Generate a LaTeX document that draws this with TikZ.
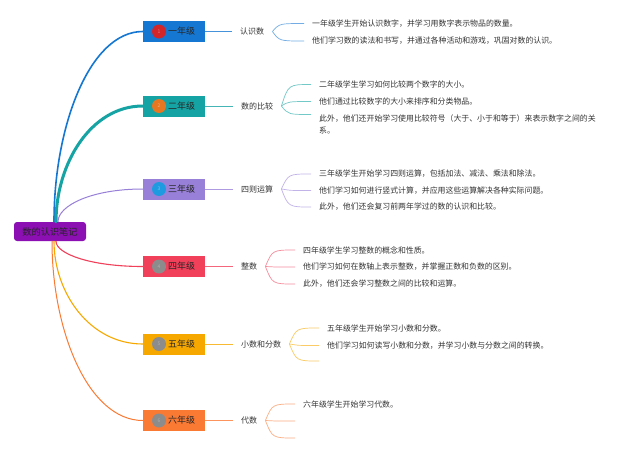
\documentclass[tikz,border=0pt]{standalone}
\usepackage{fontspec}
\newfontfamily\cjk{Noto Sans CJK SC}
\usetikzlibrary{calc}
\definecolor{rootc}{RGB}{139,15,178}
\definecolor{ca}{RGB}{22,119,210}
\definecolor{cb}{RGB}{22,163,163}
\definecolor{cc}{RGB}{152,128,216}
\definecolor{cd}{RGB}{240,64,90}
\definecolor{ce}{RGB}{246,168,0}
\definecolor{cf}{RGB}{250,122,52}
\definecolor{na}{RGB}{211,38,43}
\definecolor{nb}{RGB}{232,119,34}
\definecolor{nc}{RGB}{30,155,224}
\definecolor{ng}{RGB}{140,140,140}
\definecolor{txt}{RGB}{51,51,51}
\begin{document}
\begin{tikzpicture}[x=1pt,y=-1pt,
  rootbox/.style={fill=rootc, rounded corners=3pt, minimum width=72pt, minimum height=19pt, inner sep=0pt, text=black!85, font=\cjk\fontsize{9.2}{11}\selectfont},
  gradebox/.style={minimum width=62pt, minimum height=21pt, inner sep=0pt},
  gradetext/.style={inner sep=0pt, text=black!85, font=\cjk\fontsize{9}{11}\selectfont},
  numdot/.style={circle, minimum size=14pt, inner sep=0pt, font=\cjk\fontsize{5}{6}\selectfont},
  topic/.style={anchor=west, inner xsep=8pt, inner ysep=1pt, text=txt, font=\cjk\fontsize{8}{10}\selectfont},
  desc/.style={anchor=west, inner xsep=8pt, inner ysep=1pt, text=txt, font=\cjk\fontsize{7.9}{12}\selectfont, align=left},
  mainline/.style={line cap=round},
  hline/.style={line width=0.8pt},
  subline/.style={line width=0.7pt},
  ]
\fill[white] (0,0) rectangle (640,453);
\useasboundingbox (0,0) rectangle (640,453);

% root
\node[rootbox] (r) at (50,231.5) {数的认识笔记};

% grade boxes
\node[gradebox, fill=ca] (g1) at (174,31.5) {};
\node[gradebox, fill=cb] (g2) at (174,106) {};
\node[gradebox, fill=cc] (g3) at (174,189) {};
\node[gradebox, fill=cd] (g4) at (174,266.5) {};
\node[gradebox, fill=ce] (g5) at (174,344) {};
\node[gradebox, fill=cf] (g6) at (174,420.5) {};

\node[numdot, fill=na, text=na!60!white] (n1) at (159,31.5) {1};
\node[numdot, fill=nb, text=nb!60!white] (n2) at (159,106) {2};
\node[numdot, fill=nc, text=nc!60!white] (n3) at (159,189) {3};
\node[numdot, fill=ng, text=ng!70!white] (n4) at (159,266.5) {4};
\node[numdot, fill=ng, text=ng!70!white] (n5) at (159,344) {5};
\node[numdot, fill=ng, text=ng!70!white] (n6) at (159,420.5) {6};

\node[gradetext] (t1) at (181.5,31.5) {一年级};
\node[gradetext] (t2) at (181.5,106) {二年级};
\node[gradetext] (t3) at (181.5,189) {三年级};
\node[gradetext] (t4) at (181.5,266.5) {四年级};
\node[gradetext] (t5) at (181.5,344) {五年级};
\node[gradetext] (t6) at (181.5,420.5) {六年级};

% topics
\node[topic] (l1) at (232,31.5) {认识数};
\node[topic] (l2) at (233,106) {数的比较};
\node[topic] (l3) at (233,189) {四则运算};
\node[topic] (l4) at (233,266.5) {整数};
\node[topic] (l5) at (233,344) {小数和分数};
\node[topic] (l6) at (233,420.5) {代数};

% descriptions
\node[desc] (d11) at (304,23.5) {一年级学生开始认识数字，并学习用数字表示物品的数量。};
\node[desc] (d12) at (304,41) {他们学习数的读法和书写，并通过各种活动和游戏，巩固对数的认识。};

\node[desc] (d21) at (311,84.5) {二年级学生学习如何比较两个数字的大小。};
\node[desc] (d22) at (311,101.5) {他们通过比较数字的大小来排序和分类物品。};
\node[desc] (d23) at (311,124.5) {此外，他们还开始学习使用比较符号（大于、小于和等于）来表示数字之间的关\\系。};

\node[desc] (d31) at (311,174) {三年级学生开始学习四则运算，包括加法、减法、乘法和除法。};
\node[desc] (d32) at (311,190.5) {他们学习如何进行竖式计算，并应用这些运算解决各种实际问题。};
\node[desc] (d33) at (311,207) {此外，他们还会复习前两年学过的数的认识和比较。};

\node[desc] (d41) at (295,250) {四年级学生学习整数的概念和性质。};
\node[desc] (d42) at (295,267) {他们学习如何在数轴上表示整数，并掌握正数和负数的区别。};
\node[desc] (d43) at (295,284) {此外，他们还会学习整数之间的比较和运算。};

\node[desc] (d51) at (319,328) {五年级学生开始学习小数和分数。};
\node[desc] (d52) at (319,345.5) {他们学习如何读写小数和分数，并学习小数与分数之间的转换。};
\coordinate (e53) at (319,361);

\node[desc] (d61) at (295,404) {六年级学生开始学习代数。};
\coordinate (e62) at (295,421);
\coordinate (e63) at (295,438);

% branch start points on the root
\coordinate (s1) at ($(r.north)+(4,0)$);
\coordinate (s2) at ($(r.north)+(6,0)$);
\coordinate (s3) at ($(r.north)+(8,0)$);
\coordinate (s4) at ($(r.south)+(6,0)$);
\coordinate (s5) at ($(r.south)+(4,0)$);
\coordinate (s6) at ($(r.south)+(2,0)$);

% main branches
\draw[mainline, ca, line width=1.6pt] (s1) .. controls ($(s1)!0.5!(s1 |- g1.west)$) and ($(g1.west)!0.6!(s1 |- g1.west)$) .. (g1.west);
\draw[mainline, cb, line width=3pt] (s2) .. controls ($(s2)!0.5!(s2 |- g2.west)$) and ($(g2.west)!0.6!(s2 |- g2.west)$) .. (g2.west);
\draw[mainline, cc, line width=1pt] (s3) .. controls ($(s3)!0.5!(s3 |- g3.west)$) and ($(g3.west)!0.6!(s3 |- g3.west)$) .. (g3.west);
\draw[mainline, cd, line width=1.1pt] (s4) .. controls ($(s4)!0.5!(s4 |- g4.west)$) and ($(g4.west)!0.6!(s4 |- g4.west)$) .. (g4.west);
\draw[mainline, ce, line width=1.1pt] (s5) .. controls ($(s5)!0.5!(s5 |- g5.west)$) and ($(g5.west)!0.6!(s5 |- g5.west)$) .. (g5.west);
\draw[mainline, cf, line width=1pt] (s6) .. controls ($(s6)!0.5!(s6 |- g6.west)$) and ($(g6.west)!0.6!(s6 |- g6.west)$) .. (g6.west);

% box to topic
\draw[hline, ca!80] (g1.east) -- (l1.west);
\draw[hline, cb!80] (g2.east) -- (l2.west);
\draw[hline, cc!80] (g3.east) -- (l3.west);
\draw[hline, cd!80] (g4.east) -- (l4.west);
\draw[hline, ce!80] (g5.east) -- (l5.west);
\draw[hline, cf!80] (g6.east) -- (l6.west);

% topic to descriptions
\draw[subline, ca!60] (l1.east) .. controls ($(l1.east |- d11.west)+(7,0)$) .. (d11.west);
\draw[subline, ca!60] (l1.east) .. controls ($(l1.east |- d12.west)+(7,0)$) .. (d12.west);

\draw[subline, cb!60] (l2.east) .. controls ($(l2.east |- d21.west)+(7,0)$) .. (d21.west);
\draw[subline, cb!60] (l2.east) .. controls ($(l2.east |- d22.west)+(7,0)$) .. (d22.west);
\draw[subline, cb!60] (l2.east) .. controls ($(l2.east)+(7,8.5)$) .. ($(d23.west)+(0,-10)$);

\draw[subline, cc!60] (l3.east) .. controls ($(l3.east |- d31.west)+(7,0)$) .. (d31.west);
\draw[subline, cc!60] (l3.east) .. controls ($(l3.east |- d32.west)+(7,0)$) .. (d32.west);
\draw[subline, cc!60] (l3.east) .. controls ($(l3.east |- d33.west)+(7,0)$) .. (d33.west);

\draw[subline, cd!60] (l4.east) .. controls ($(l4.east |- d41.west)+(7,0)$) .. (d41.west);
\draw[subline, cd!60] (l4.east) .. controls ($(l4.east |- d42.west)+(7,0)$) .. (d42.west);
\draw[subline, cd!60] (l4.east) .. controls ($(l4.east |- d43.west)+(7,0)$) .. (d43.west);

\draw[subline, ce!60] (l5.east) .. controls ($(l5.east |- d51.west)+(7,0)$) .. (d51.west);
\draw[subline, ce!60] (l5.east) .. controls ($(l5.east |- d52.west)+(7,0)$) .. (d52.west);
\draw[subline, ce!60] (l5.east) .. controls ($(l5.east |- e53)+(7,0)$) .. (e53);

\draw[subline, cf!60] (l6.east) .. controls ($(l6.east |- d61.west)+(7,0)$) .. (d61.west);
\draw[subline, cf!60] (l6.east) .. controls ($(l6.east |- e62)+(7,0)$) .. (e62);
\draw[subline, cf!60] (l6.east) .. controls ($(l6.east |- e63)+(7,0)$) .. (e63);
\end{tikzpicture}
\end{document}
